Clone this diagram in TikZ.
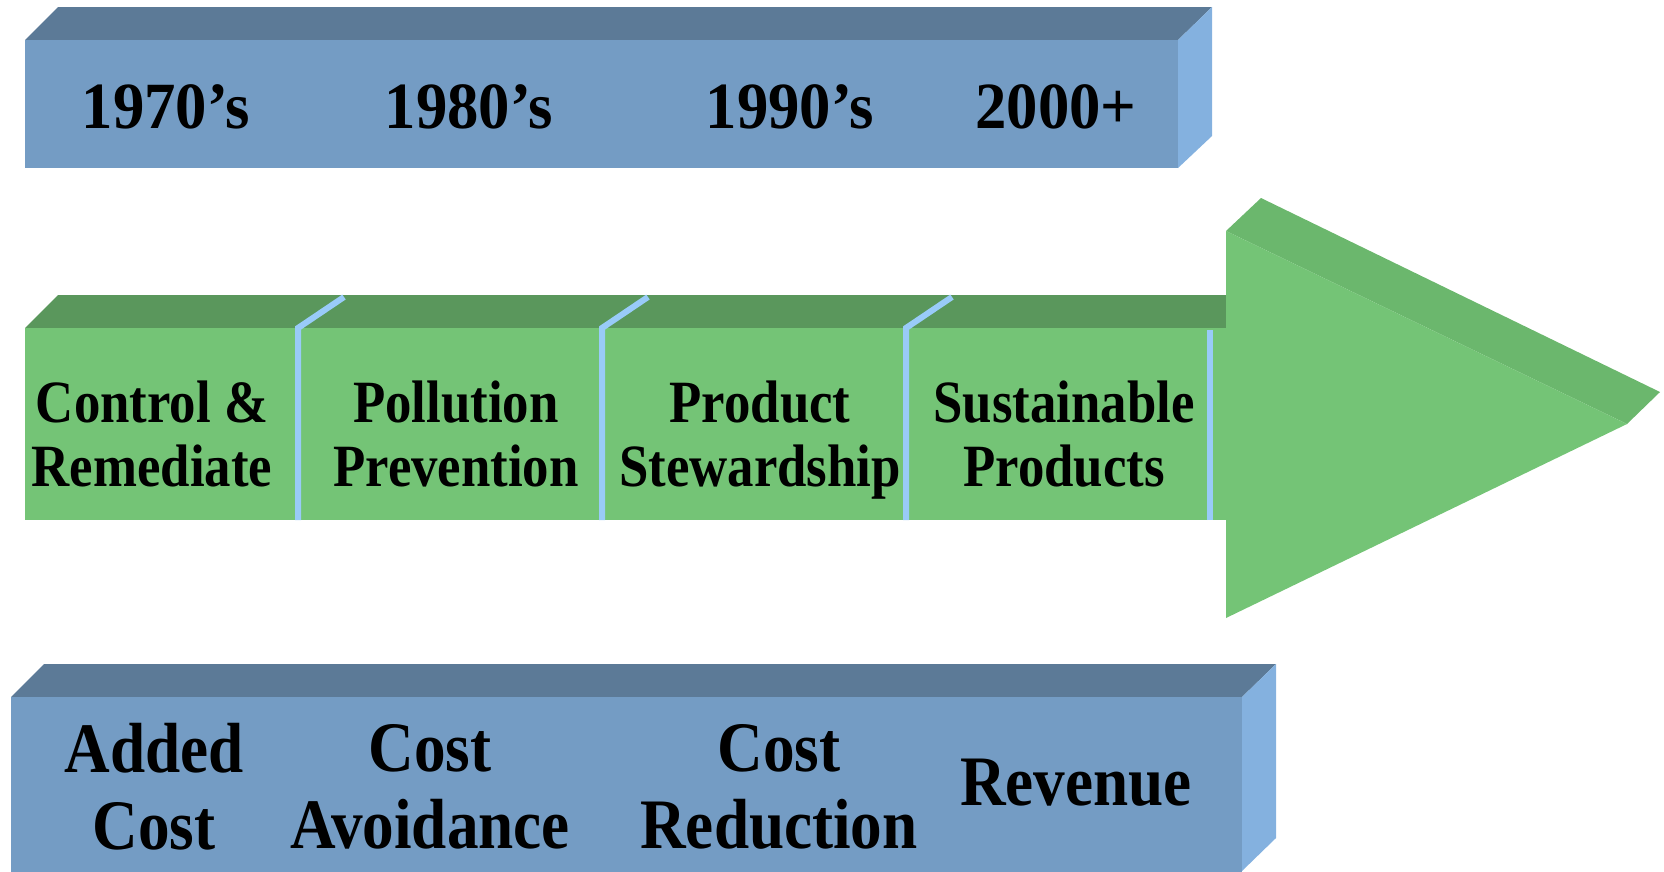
\documentclass[tikz,border=0pt]{standalone}
\usepackage{fontspec}
\setmainfont{Liberation Serif}
\newfontfamily\yearfont{Liberation Serif}[FakeStretch=0.95]
\newfontfamily\stagefont{Liberation Serif}[FakeStretch=0.88]
\newfontfamily\valuefont{Liberation Serif}[FakeStretch=0.89]
\usetikzlibrary{positioning}

\definecolor{frontblue}{RGB}{116,156,196}
\definecolor{topblue}{RGB}{92,122,151}
\definecolor{sideblue}{RGB}{132,177,223}
\definecolor{frontgreen}{RGB}{116,196,118}
\definecolor{bandgreen}{RGB}{90,151,92}
\definecolor{headgreen}{RGB}{107,183,109}
\definecolor{divblue}{RGB}{153,203,248}

\begin{document}
\begin{tikzpicture}[
    x=1pt,
    y=-1pt,
    on grid,
    node distance=304pt,
    txt/.style={align=center, inner sep=0pt, text depth=0pt, text=black},
    yearlbl/.style={txt, font=\yearfont\bfseries\fontsize{66}{70}\selectfont},
    stagelbl/.style={txt, font=\stagefont\bfseries\fontsize{60}{64}\selectfont},
    valuelbl/.style={txt, font=\valuefont\bfseries\fontsize{71}{77}\selectfont},
    divider/.style={draw=divblue, line width=6pt},
]
    \useasboundingbox (0,0) rectangle (1664,871);

    % decades block
    \fill[topblue]   (25,40) -- (58,7) -- (1212,7) -- (1178,40) -- cycle;
    \fill[sideblue]  (1178,40) -- (1212,7) -- (1212,136) -- (1178,168) -- cycle;
    \fill[frontblue] (25,40) rectangle (1178,168);

    % green band and head
    \fill[bandgreen]  (25,328) -- (58,295) -- (1226,295) -- (1226,328) -- cycle;
    \fill[frontgreen] (25,328) rectangle (1226,520);
    \foreach \x in {298,602,906}
        \draw[divider] (\x,520) -- (\x,328) -- ++(46,-31);
    \draw[divider] (1210,520) -- (1210,330);
    \fill[headgreen]  (1226,231) -- (1261,198) -- (1660,392) -- (1627,424) -- cycle;
    \fill[frontgreen] (1226,231) -- (1627,424) -- (1226,618) -- cycle;

    % value block
    \fill[topblue]   (11,697) -- (44,664) -- (1276,664) -- (1242,697) -- cycle;
    \fill[sideblue]  (1242,697) -- (1276,664) -- (1276,838) -- (1242,871) -- cycle;
    \fill[frontblue] (11,697) rectangle (1242,880);

    \node[yearlbl] (y70) at (166,107)  {1970’s};
    \node[yearlbl] (y80) at (469,107)  {1980’s};
    \node[yearlbl] (y90) at (790,107)  {1990’s};
    \node[yearlbl] (y00) at (1056,107) {2000+};

    \node[stagelbl]                (ctrl) at (152,434) {Control \&\\Remediate};
    \node[stagelbl, right =of ctrl] (prev)             {Pollution\\Prevention};
    \node[stagelbl, right =of prev] (stew)             {Product\\Stewardship};
    \node[stagelbl, right =of stew] (sust)             {Sustainable\\Products};

    \node[valuelbl] (added) at (154,786)  {Added\\Cost};
    \node[valuelbl] (avoid) at (430,786)  {Cost\\Avoidance};
    \node[valuelbl] (reduc) at (779,786)  {Cost\\Reduction};
    \node[valuelbl] (rev)   at (1076,782) {Revenue};
\end{tikzpicture}
\end{document}
